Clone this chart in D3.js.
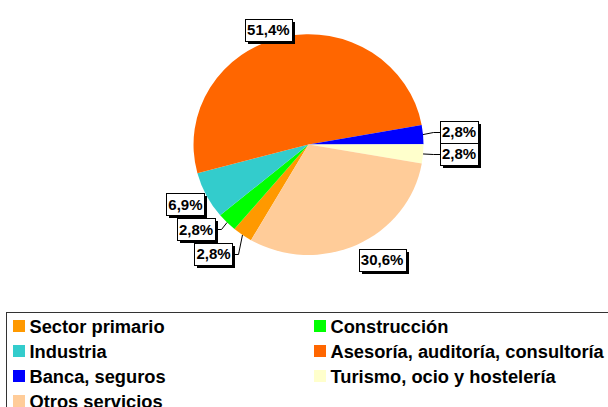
<!DOCTYPE html>
<html><head><meta charset="utf-8">
<script src="https://cdn.jsdelivr.net/npm/d3@7"></script>
<style>
html,body{margin:0;padding:0;background:#fff;overflow:hidden}
svg{display:block}
text{font-family:"Liberation Sans",Arial,sans-serif;font-weight:bold}
</style></head>
<body>
<script>
const categories = ["Sector primario","Construcción","Industria","Asesoría, auditoría, consultoría","Banca, seguros","Turismo, ocio y hostelería","Otros servicios"];
const values = [2.8, 2.8, 6.9, 51.4, 2.8, 2.8, 30.6];
const labels = ["2,8%","2,8%","6,9%","51,4%","2,8%","2,8%","30,6%"];
const colors = ["#FF9900","#00FF00","#33CCCC","#FF6600","#0000FF","#FFFFCC","#FFCC99"];
// layout: label box offset (px) from the slice's mid-edge point, and leader side
const labelOffsets = [[-29,19,"r"],[-31,7,"r"],[-21,9,null],[-15,-7,null],[36,-3,"l"],[36,0,"l"],[25,15,null]];

const W=608,H=407;
const svg=d3.select("body").append("svg").attr("width",W).attr("height",H);
const cx=308.5, cy=144.5, rx=115, ry=110.5;
const startDeg=210;
const pie=d3.pie().sort(null).value(d=>d)
  .startAngle(startDeg*Math.PI/180).endAngle((startDeg+360)*Math.PI/180);
const arcs=pie(values);
const arc=d3.arc().innerRadius(0).outerRadius(1);
const g=svg.append("g").attr("transform",`translate(${cx},${cy}) scale(${rx},${ry})`);
g.selectAll("path").data(arcs).enter().append("path")
  .attr("d",arc).attr("fill",(d,i)=>colors[i]);

// labels
const lg=svg.append("g");
arcs.forEach((d,i)=>{
  const a=(d.startAngle+d.endAngle)/2;
  const ex=cx+Math.sin(a)*rx, ey=cy-Math.cos(a)*ry;
  const [ox,oy,side]=labelOffsets[i];
  const lx=ex+ox, ly=ey+oy;
  const grp=lg.append("g");
  const t=grp.append("text").attr("x",lx).attr("y",ly).attr("text-anchor","middle")
    .attr("dominant-baseline","central").attr("font-size",15).attr("fill","#000").text(labels[i]);
  const bb=t.node().getBBox();
  const bw=Math.round(bb.width+4), bh=22;
  const bx=Math.round(lx-bw/2)+0.5, by=Math.round(ly-bh/2)+0.5;
  grp.insert("rect","text").attr("x",bx+2.5).attr("y",by+2.5).attr("width",bw).attr("height",bh).attr("fill","#000");
  grp.insert("rect","text").attr("x",bx).attr("y",by).attr("width",bw).attr("height",bh)
    .attr("fill","#fff").attr("stroke","#000").attr("stroke-width",1);
  if(side){
    const sx= side==="l"? bx : bx+bw;
    const sy= Math.round(ly)+0.5;
    const elx= side==="l"? sx-7 : sx+6;
    lg.insert("path",":first-child").attr("d",`M${ex},${ey}L${elx},${sy}L${sx},${sy}`)
      .attr("fill","none").attr("stroke","#000").attr("stroke-width",1);
  }
});

// legend
const leg=svg.append("g");
leg.append("rect").attr("x",6.5).attr("y",312.5).attr("width",640).attr("height",140)
  .attr("fill","#fff").attr("stroke","#333").attr("stroke-width",1);
categories.forEach((c,i)=>{
  const col=i%2, row=Math.floor(i/2);
  const x= col===0?13:314, y=326+row*25;
  leg.append("rect").attr("x",x).attr("y",y-6).attr("width",12).attr("height",12).attr("fill",colors[i]);
  leg.append("text").attr("x",x+16.5).attr("y",y+6.5)
    .attr("font-size",18.3).attr("fill","#000").text(c);
});
</script>
</body></html>
